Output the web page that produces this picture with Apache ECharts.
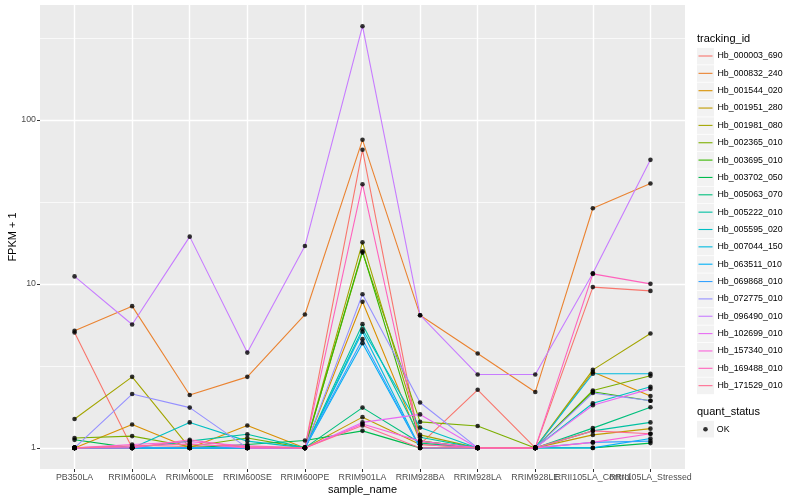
<!DOCTYPE html>
<html><head><meta charset="utf-8">
<script src="https://cdn.jsdelivr.net/npm/echarts@6/dist/echarts.min.js"></script>
<style>html,body{margin:0;padding:0;background:#fff}#c{width:800px;height:500px}</style>
</head><body><div id="c"></div>
<script>
// ---- data ----
const samples = ['PB350LA','RRIM600LA','RRIM600LE','RRIM600SE','RRIM600PE','RRIM901LA','RRIM928BA','RRIM928LA','RRIM928LE','RRII105LA_Control','RRII105LA_Stressed'];
const trackingIds = ['Hb_000003_690','Hb_000832_240','Hb_001544_020','Hb_001951_280','Hb_001981_080','Hb_002365_010','Hb_003695_010','Hb_003702_050','Hb_005063_070','Hb_005222_010','Hb_005595_020','Hb_007044_150','Hb_063511_010','Hb_069868_010','Hb_072775_010','Hb_096490_010','Hb_102699_010','Hb_157340_010','Hb_169488_010','Hb_171529_010'];
const palette = ['#F8766D','#EA8331','#D89000','#C09B00','#A3A500','#7CAE00','#39B600','#00BB4E','#00BF7D','#00C1A3','#00BFC4','#00BAE0','#00B0F6','#35A2FF','#9590FF','#C77CFF','#E76BF3','#FA62DB','#FF62BC','#FF6C91'];
// FPKM + 1 per sample, in the order of `samples`
const hb_000003_690 = [5.05, 1.0, 1.02, 1.0, 1.0, 65.6, 1.05, 2.26, 1.0, 9.55, 9.06];
const hb_000832_240 = [5.17, 7.31, 2.1, 2.71, 6.5, 75.5, 6.44, 3.76, 2.19, 28.9, 40.9];
const hb_001544_020 = [1.0, 1.39, 1.0, 1.37, 1.0, 7.77, 1.1, 1.0, 1.0, 2.9, 2.07];
const hb_001951_280 = [1.0, 1.0, 1.0, 1.0, 1.0, 1.54, 1.05, 1.0, 1.0, 1.2, 1.31];
const hb_001981_080 = [1.5, 2.71, 1.0, 1.0, 1.0, 17.9, 1.2, 1.0, 1.0, 2.99, 4.98];
const hb_002365_010 = [1.15, 1.18, 1.02, 1.15, 1.0, 15.5, 1.44, 1.36, 1.0, 2.24, 2.75];
const hb_003695_010 = [1.0, 1.0, 1.0, 1.0, 1.0, 15.8, 1.1, 1.0, 1.0, 2.2, 1.94];
const hb_003702_050 = [1.12, 1.0, 1.0, 1.05, 1.11, 1.27, 1.0, 1.0, 1.0, 1.0, 1.07];
const hb_005063_070 = [1.0, 1.0, 1.0, 1.0, 1.0, 1.76, 1.07, 1.0, 1.0, 1.32, 1.77];
const hb_005222_010 = [1.0, 1.0, 1.1, 1.21, 1.0, 5.68, 1.16, 1.0, 1.0, 1.27, 1.43];
const hb_005595_020 = [1.0, 1.0, 1.43, 1.1, 1.0, 5.29, 1.33, 1.0, 1.0, 1.87, 2.36];
const hb_007044_150 = [1.0, 1.0, 1.0, 1.0, 1.0, 5.1, 1.0, 1.0, 1.0, 2.83, 2.83];
const hb_063511_010 = [1.0, 1.0, 1.0, 1.0, 1.0, 4.35, 1.0, 1.0, 1.0, 1.0, 1.14];
const hb_069868_010 = [1.0, 1.0, 1.0, 1.0, 1.0, 4.6, 1.0, 1.0, 1.0, 1.08, 1.1];
const hb_072775_010 = [1.0, 2.13, 1.76, 1.0, 1.0, 8.65, 1.89, 1.0, 1.0, 2.16, 1.94];
const hb_096490_010 = [11.1, 5.65, 19.4, 3.81, 17.0, 372, 6.44, 2.8, 2.8, 11.6, 57];
const hb_102699_010 = [1.0, 1.02, 1.06, 1.0, 1.0, 1.43, 1.6, 1.0, 1.0, 1.82, 2.29];
const hb_157340_010 = [1.0, 1.05, 1.09, 1.03, 1.0, 1.4, 1.1, 1.0, 1.0, 1.08, 1.22];
const hb_169488_010 = [1.0, 1.0, 1.12, 1.0, 1.0, 40.5, 1.05, 1.0, 1.0, 11.5, 10.0];
const hb_171529_010 = [1.0, 1.03, 1.05, 1.02, 1.0, 1.37, 1.0, 1.0, 1.0, 1.27, 1.22];
const seriesValues = [hb_000003_690,hb_000832_240,hb_001544_020,hb_001951_280,hb_001981_080,hb_002365_010,hb_003695_010,hb_003702_050,hb_005063_070,hb_005222_010,hb_005595_020,hb_007044_150,hb_063511_010,hb_069868_010,hb_072775_010,hb_096490_010,hb_102699_010,hb_157340_010,hb_169488_010,hb_171529_010];
const yBreaks = [1, 10, 100];
const yMinorBreaks = [3.16228, 31.6228, 316.228];
const xBreaks = samples.map((s, i) => i);
const quantStatus = ['OK'];

// ---- chart ----
const FONT = '"Liberation Sans", Arial, sans-serif';
const chart = echarts.init(document.getElementById('c'), null, {renderer: 'canvas'});

const lineSeries = trackingIds.map((id, k) => ({
  name: id,
  type: 'line',
  data: seriesValues[k].map((v, i) => [i, v]),
  symbol: 'none',
  lineStyle: {color: palette[k], width: 1.1},
  itemStyle: {color: palette[k]},
  z: 2,
  silent: true,
  animation: false
}));
const pointData = [];
seriesValues.forEach(arr => arr.forEach((v, i) => pointData.push([i, v])));
const pointSeries = {
  name: quantStatus[0],
  type: 'scatter',
  data: pointData,
  symbol: 'circle',
  symbolSize: 4.6,
  itemStyle: {color: '#000'},
  z: 3,
  silent: true,
  animation: false
};

const keyRects = trackingIds.map((id, i) => ({
  type: 'rect', shape: {x: 697, y: 47.9 + i * 17.35, width: 17, height: 16.6},
  style: {fill: '#f2f2f2'}, z: 0, silent: true
}));
keyRects.push({type: 'rect', shape: {x: 697, y: 420.9, width: 17, height: 16.6}, style: {fill: '#f2f2f2'}, z: 0, silent: true});

const yMin = 0.7437, yMax = 500.8;
const labelStyle = {color: '#4d4d4d', fontSize: 8.8, margin: 4, fontFamily: FONT, hideOverlap: false};

// x tick labels are split over three axes so that overlapping end labels are all kept
const xLabelGroups = [xBreaks.slice(0, 9), xBreaks.slice(9, 10), xBreaks.slice(10, 11)];
const xAxes = xLabelGroups.map((vals, g) => ({
  type: 'value', min: -0.6, max: 10.6, splitNumber: 11, minInterval: 1, gridIndex: 0, position: 'bottom', offset: 0,
  name: g === 0 ? 'sample_name' : '', nameLocation: 'middle', nameGap: 15, nameMoveOverlap: false,
  nameTextStyle: {color: '#000', fontSize: 11, fontFamily: FONT},
  axisLine: {show: false, onZero: false},
  axisTick: {show: g === 0, length: 3, lineStyle: {color: '#333', width: 1}, customValues: xBreaks},
  axisLabel: Object.assign({customValues: vals, formatter: v => samples[Math.round(v)] || ''}, labelStyle),
  splitLine: {show: g === 0, lineStyle: {color: '#fff', width: 1.4}}
}));

chart.setOption({
  animation: false,
  backgroundColor: '#fff',
  textStyle: {fontFamily: FONT},
  grid: {left: 40, right: 115, top: 5, bottom: 31, show: true, backgroundColor: '#ebebeb', borderWidth: 0,
    containLabel: false, outerBoundsMode: 'none'},
  xAxis: xAxes,
  yAxis: [{
    type: 'log', logBase: 10, min: yMin, max: yMax, splitNumber: 3, position: 'left', offset: 0,
    name: 'FPKM + 1', nameLocation: 'middle', nameGap: 21.5, nameRotate: 90, nameMoveOverlap: false,
    nameTextStyle: {color: '#000', fontSize: 11, fontFamily: FONT},
    axisLine: {show: false, onZero: false},
    axisTick: {show: true, length: 3, lineStyle: {color: '#333', width: 1}, customValues: yBreaks},
    axisLabel: Object.assign({customValues: yBreaks, formatter: v => String(Math.round(v))}, labelStyle),
    splitLine: {show: true, lineStyle: {color: '#fff', width: 1.4}}
  }, {
    type: 'log', logBase: 10, min: yMin, max: yMax, position: 'left', offset: 0,
    axisLine: {show: false, onZero: false},
    axisTick: {show: false, customValues: yMinorBreaks},
    axisLabel: {show: false, customValues: yMinorBreaks},
    splitLine: {show: true, lineStyle: {color: '#fff', width: 0.7}}
  }],
  legend: [{
    orient: 'vertical', left: 698.5, top: 47.5, padding: 0,
    itemWidth: 14, itemHeight: 17, itemGap: 0.35,
    icon: 'path://M0,0L14,0L14,1.1L0,1.1Z',
    data: trackingIds,
    textStyle: {color: '#000', fontSize: 8.8, fontFamily: FONT, lineHeight: 17},
    selectedMode: false
  }, {
    orient: 'vertical', left: 703.2, top: 420.7, padding: 0,
    itemWidth: 4.6, itemHeight: 4.6,
    data: [{name: quantStatus[0], icon: 'circle'}],
    textStyle: {color: '#000', fontSize: 8.8, fontFamily: FONT, lineHeight: 17, padding: [0, 0, 0, 4]},
    selectedMode: false
  }],
  graphic: keyRects.concat([
    {type: 'text', x: 697, y: 39, style: {text: 'tracking_id', fontSize: 11, fontFamily: FONT, fill: '#000', verticalAlign: 'middle'}},
    {type: 'text', x: 697, y: 412, style: {text: 'quant_status', fontSize: 11, fontFamily: FONT, fill: '#000', verticalAlign: 'middle'}}
  ]),
  series: lineSeries.concat([pointSeries])
});
</script>
</body></html>
